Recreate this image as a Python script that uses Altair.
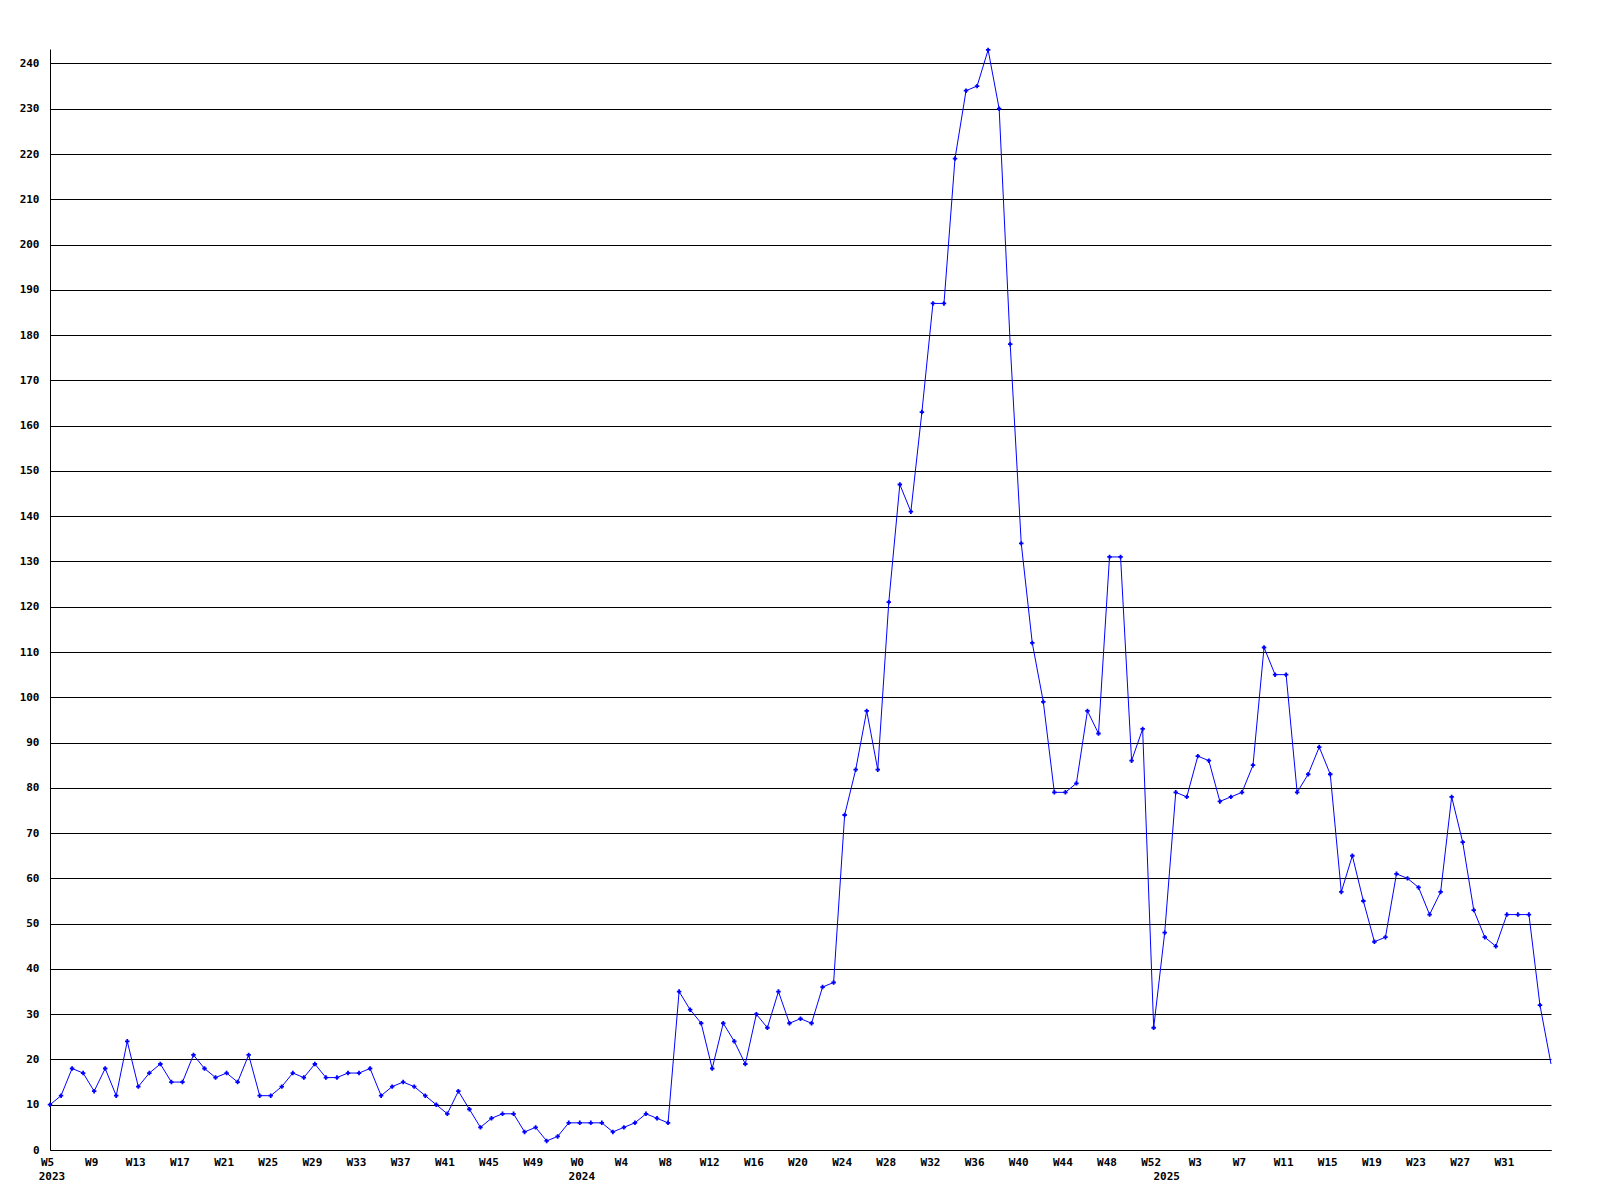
import altair as alt
import pandas as pd

# Weekly counts, 2023 W5 .. 2025 W35
years = [2023] * 48 + [2024] * 53 + [2025] * 36
weeks = list(range(5, 53)) + list(range(0, 53)) + list(range(0, 36))
values = [
    # 2023 W5..W52
    10, 12, 18, 17, 13, 18, 12, 24, 14, 17, 19, 15, 15, 21, 18, 16,
    17, 15, 21, 12, 12, 14, 17, 16, 19, 16, 16, 17, 17, 18, 12, 14,
    15, 14, 12, 10, 8, 13, 9, 5, 7, 8, 8, 4, 5, 2, 3, 6,
    # 2024 W0..W52
    6, 6, 6, 4, 5, 6, 8, 7, 6, 35, 31, 28, 18, 28, 24, 19,
    30, 27, 35, 28, 29, 28, 36, 37, 74, 84, 97, 84, 121, 147, 141, 163,
    187, 187, 219, 234, 235, 243, 230, 178, 134, 112, 99, 79, 79, 81, 97, 92,
    131, 131, 86, 93, 27,
    # 2025 W0..W35
    48, 79, 78, 87, 86, 77, 78, 79, 85, 111, 105, 105, 79, 83, 89, 83,
    57, 65, 55, 46, 47, 61, 60, 58, 52, 57, 78, 68, 53, 47, 45, 52,
    52, 52, 32, 19,
]
complete = [True] * (len(values) - 1) + [False]  # last week has no marker

df = pd.DataFrame({
    "idx": list(range(len(values))),
    "year": years,
    "week": weeks,
    "value": values,
    "complete": complete,
})

tick_idx = [i for i in range(len(values)) if i % 4 == 0 and i < len(values) - 1]
label_map = "{" + ",".join(f'"{i}":"W{weeks[i]}"' for i in tick_idx) + "}"

year_rows = []
for y in sorted(set(years)):
    first = years.index(y)
    year_rows.append({"idx": first, "label": str(y)})
years_df = pd.DataFrame(year_rows)

W, H = 1501, 1101
FONT = "DejaVu Sans Mono"
x_scale = alt.Scale(domain=[0, len(values) - 1], nice=False, zero=False)
y_scale = alt.Scale(domain=[0, 243.2], nice=False)

base = alt.Chart(df)

line = base.mark_line(color="#0000ff", strokeWidth=1, interpolate="linear").encode(
    x=alt.X("idx:Q", scale=x_scale, title=None,
            axis=alt.Axis(values=tick_idx, labelExpr=f"{label_map}[''+datum.value]",
                          grid=False, ticks=False, labelPadding=6, labelOffset=-3,
                          domainColor="black", labelFont=FONT, labelFontSize=11,
                          labelFontWeight="bold", labelColor="black",
                          labelAngle=0, labelFlush=False, labelOverlap=False)),
    y=alt.Y("value:Q", scale=y_scale, title=None,
            axis=alt.Axis(values=list(range(0, 250, 10)), grid=True, gridColor="black",
                          gridOpacity=1, gridWidth=1, ticks=False, labelPadding=11,
                          domainColor="black", labelFont=FONT, labelFontSize=11,
                          labelFontWeight="bold", labelColor="black")),
)

points = base.transform_filter("datum.complete").mark_point(
    shape="cross", filled=True, size=20, color="#0000ff", opacity=1
).encode(x=alt.X("idx:Q", scale=x_scale), y=alt.Y("value:Q", scale=y_scale))

year_text = alt.Chart(years_df).mark_text(
    font=FONT, fontSize=11, fontWeight="bold", color="black", baseline="middle",
    align="center", dx=2
).encode(
    x=alt.X("idx:Q", scale=x_scale),
    y=alt.value(H + 27),
    text="label:N",
)

chart = alt.layer(line, points, year_text).properties(
    width=W, height=H,
    autosize=alt.AutoSizeParams(type="none"),
    padding={"left": 42, "top": 41, "right": 41, "bottom": 42},
).configure(background="white").configure_view(stroke=None, strokeWidth=0)

chart.save("out.html", embed_options={"renderer": "svg", "actions": False})
